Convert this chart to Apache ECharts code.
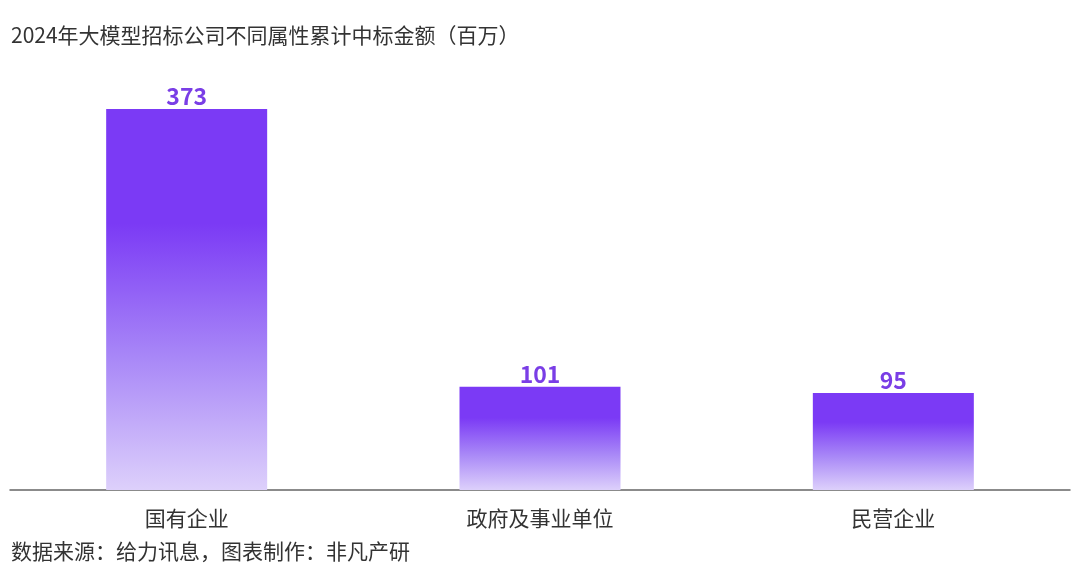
<!DOCTYPE html>
<html><head><meta charset="utf-8">
<script src="https://cdn.jsdelivr.net/npm/echarts@6/dist/echarts.min.js"></script>
<style>html,body{margin:0;padding:0;background:#fff}#c{width:1080px;height:581px}</style>
</head><body><div id="c"></div>
<script>
const titleText = '2024年大模型招标公司不同属性累计中标金额（百万）';
const sourceText = '数据来源：给力讯息，图表制作：非凡产研';
const categories = ['国有企业', '政府及事业单位', '民营企业'];
const values = [373, 101, 95];

const chart = echarts.init(document.getElementById('c'));
const font = '"Noto Sans CJK SC", "Noto Sans", sans-serif';
chart.setOption({
  animation: false,
  backgroundColor: '#fff',
  title: [
    { text: titleText, left: 11, top: 25, padding: 0, textStyle: { fontFamily: font, fontSize: 21, fontWeight: 'normal', color: '#333' } },
    { text: sourceText, left: 11, top: 541, padding: 0, textStyle: { fontFamily: font, fontSize: 21, fontWeight: 'normal', color: '#333' } }
  ],
  grid: { left: 10, right: 10, top: 81.5, bottom: 91, containLabel: false },
  xAxis: {
    type: 'category', data: categories,
    axisLine: { show: true, lineStyle: { color: '#666', width: 1.5 } },
    axisTick: { show: false },
    axisLabel: { fontFamily: font, fontSize: 21, color: '#333', margin: 18 }
  },
  yAxis: { type: 'value', min: 0, max: 400, show: false, splitLine: { show: false } },
  series: [{
    type: 'bar', data: values, barWidth: 161,
    itemStyle: {
      color: new echarts.graphic.LinearGradient(0, 0, 0, 1, [
        { offset: 0, color: '#7b3af5' },
        { offset: 0.3, color: '#7b3af5' },
        { offset: 0.65, color: '#a887f7' },
        { offset: 1, color: '#ddd0fb' }
      ])
    },
    label: { show: true, position: 'top', distance: 1, fontFamily: font, fontSize: 23, fontWeight: 'bold', color: '#7a3ee6' }
  }]
});
</script></body></html>
